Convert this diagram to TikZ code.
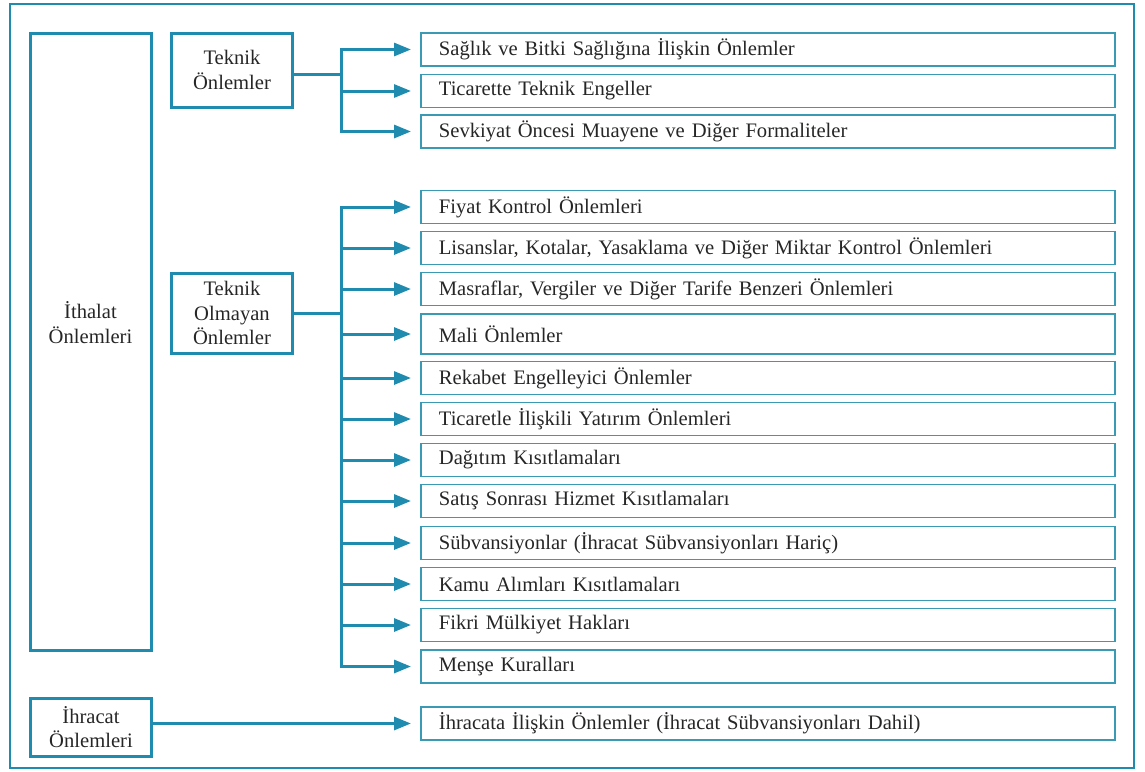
\documentclass[tikz,border=0pt]{standalone}
\usepackage{fontspec}
\setmainfont{Liberation Serif}
\usepackage{tikz}
\usetikzlibrary{arrows.meta}
\definecolor{tealdark}{HTML}{1F8BAE}
\definecolor{teallight}{HTML}{3A9AB4}

\begin{document}
\begin{tikzpicture}[x=1pt, y=-1pt, font=\fontsize{20.6}{24.5}\selectfont]

\tikzstyle{every node} = [rectangle, inner sep=0pt, text=black!85]
\tikzstyle{grp} = [draw=tealdark, line width=3pt, align=center, minimum width=121pt]
\tikzstyle{item} = [draw=teallight, line width=1.8pt, anchor=west, minimum width=694pt,
  minimum height=33pt, text width=658pt, align=left]
\tikzstyle{link} = [draw=tealdark, line width=3pt]
\tikzstyle{arr} = [link, -{Triangle[length=17pt, width=13pt]}, shorten >=9pt]

\useasboundingbox (0,0) rectangle (1145,771);
\draw[tealdark, line width=2.5pt] (10,4) rectangle (1134,768);

\node[grp, minimum height=617pt] (i) at (90.5,341.5) {İthalat\\Önlemleri\\[14pt]};
\node[grp, minimum height=74pt] (t) at (232,70) {Teknik\\Önlemler};
\node[grp, minimum height=80pt] (n) at (232,313) {Teknik\\Olmayan\\Önlemler};
\node[grp, minimum height=58pt] (x) at (91,727) {İhracat\\Önlemleri};

\node[item] (s1) at (420,49.5) {Sağlık ve Bitki Sağlığına İlişkin Önlemler};
\node[item] (s2) at (420,91) {Ticarette Teknik Engeller};
\node[item] (s3) at (420,131.5) {Sevkiyat Öncesi Muayene ve Diğer Formaliteler};

\node[item] (f1) at (420,207) {Fiyat Kontrol Önlemleri};
\node[item] (f2) at (420,248) {Lisanslar, Kotalar, Yasaklama ve Diğer Miktar Kontrol Önlemleri};
\node[item] (f3) at (420,289) {Masraflar, Vergiler ve Diğer Tarife Benzeri Önlemleri};
\node[item, minimum height=40pt] (f4) at (420,334) {Mali Önlemler};
\node[item] (f5) at (420,378) {Rekabet Engelleyici Önlemler};
\node[item] (f6) at (420,419) {Ticaretle İlişkili Yatırım Önlemleri};
\node[item] (f7) at (420,460) {Dağıtım Kısıtlamaları};
\node[item] (f8) at (420,501) {Satış Sonrası Hizmet Kısıtlamaları};
\node[item] (f9) at (420,543) {Sübvansiyonlar (İhracat Sübvansiyonları Hariç)};
\node[item] (f10) at (420,584) {Kamu Alımları Kısıtlamaları};
\node[item] (f11) at (420,625) {Fikri Mülkiyet Hakları};
\node[item] (f12) at (420,666.5) {Menşe Kuralları};

\node[item] (xa) at (420,723.5) {İhracata İlişkin Önlemler (İhracat Sübvansiyonları Dahil)};

\coordinate (tb) at (341,74);
\coordinate (nb) at (341,313);

\draw[link] (t.east |- tb) -- (tb);
\draw[arr] (tb) |- (s1.west);
\draw[arr] (tb) |- (s2.west);
\draw[arr] (tb) |- (s3.west);

\draw[link] (n.east) -- (nb);
\draw[arr] (nb) |- (f1.west);
\draw[arr] (nb) |- (f2.west);
\draw[arr] (nb) |- (f3.west);
\draw[arr] (nb) |- (f4.west);
\draw[arr] (nb) |- (f5.west);
\draw[arr] (nb) |- (f6.west);
\draw[arr] (nb) |- (f7.west);
\draw[arr] (nb) |- (f8.west);
\draw[arr] (nb) |- (f9.west);
\draw[arr] (nb) |- (f10.west);
\draw[arr] (nb) |- (f11.west);
\draw[arr] (nb) |- (f12.west);

\draw[arr] (x.east |- xa.west) -- (xa.west);

\end{tikzpicture}
\end{document}
